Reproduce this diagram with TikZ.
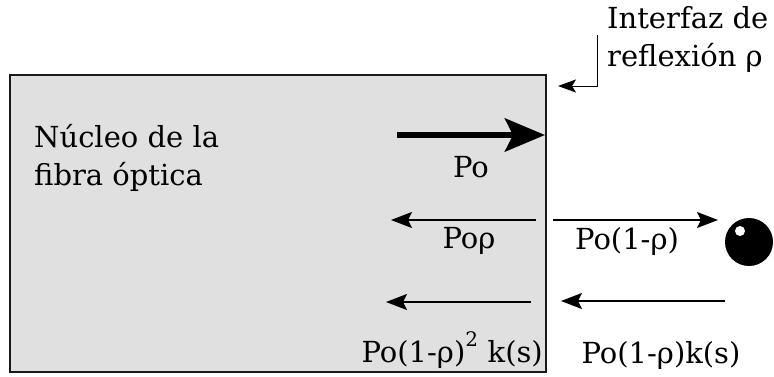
\documentclass[tikz,border=0pt]{standalone}
\usepackage{fontspec}
\setmainfont{DejaVu Serif}
\usetikzlibrary{arrows.meta}
\tikzset{
  lbl/.style={inner sep=0pt,font=\fontsize{29}{34}\selectfont},
  thin arr/.style={line width=1.7pt,-{Stealth[length=21pt,width=16pt,inset=4pt]}},
  big arr/.style={line width=6.5pt,-{Stealth[length=40pt,width=33pt,inset=8pt]}}
}
\begin{document}
\begin{tikzpicture}[x=1pt,y=-1pt]
 \useasboundingbox (0,0) rectangle (774,377);
 % nucleo
 \draw[line width=2pt,fill={rgb,255:red,224;green,224;blue,224},draw={rgb,255:red,30;green,25;blue,25}](10,75) rectangle (546,372);
 \node[lbl,anchor=west] (core1) at (34,136) {Núcleo de la};
 \node[lbl,anchor=west] (core2) at (34,177) {fibra óptica};
 % interfaz
 \node[lbl,anchor=west] (if1) at (607,18) {Interfaz de};
 \node[lbl,anchor=west] (if2) at (607,58) {reflexión ρ};
 \coordinate (ifa) at (597,35);
 \coordinate (ifb) at (597,86);
 \coordinate (ifc) at (558,86);
 \draw[line width=0.9pt,-{Stealth[length=18pt,width=13pt,inset=4pt]}] (ifa) -- (ifb) -- (ifc);
 % potencia incidente
 \coordinate (po0) at (397,135);
 \coordinate (po1) at (545,135);
 \draw[big arr] (po0) -- (po1);
 \node[lbl] (po) at (471,167) {Po};
 % reflejada y transmitida
 \coordinate (r0) at (536,220);
 \coordinate (r1) at (391,220);
 \draw[thin arr] (r0) -- (r1);
 \node[lbl] (por) at (469,241) {Poρ};
 \coordinate (t0) at (553,220);
 \coordinate (t1) at (718,220);
 \draw[thin arr] (t0) -- (t1);
 \node[lbl] (pot) at (627,241) {Po(1-ρ)};
 % reflector
 \fill[black] (749,242) circle (24) coordinate (ball);
 \fill[white] (740,231) circle (5);
 % retorno
 \coordinate (b0) at (725,301);
 \coordinate (b1) at (561,301);
 \draw[thin arr] (b0) -- (b1);
 \node[lbl] (pok) at (661,355) {Po(1-ρ)k(s)};
 \coordinate (c0) at (531,302);
 \coordinate (c1) at (386,302);
 \draw[thin arr] (c0) -- (c1);
 \node[lbl,anchor=base east] (pok2) at (543,362) {Po(1-ρ)\raisebox{16pt}{\fontsize{20}{24}\selectfont 2}\,\,k(s)};
\end{tikzpicture}
\end{document}
